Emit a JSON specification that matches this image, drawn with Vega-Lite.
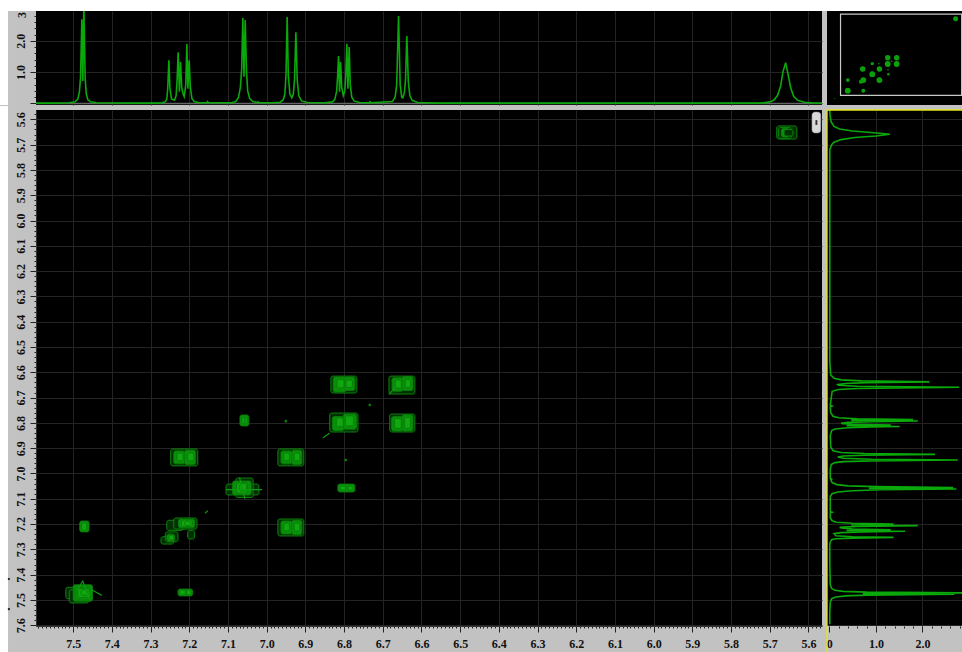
{"$schema":"https://vega.github.io/schema/vega-lite/v6.json","background":"#c2c2c2","padding":0,"spacing":0,
"config":{"view":{"stroke":null},"concat":{"spacing":0},"axis":{"title":null,"labelFont":"Liberation Serif","labelFontWeight":"bold","labelFontSize":12,"labelColor":"#111111","tickColor":"#222222","gridColor":"#242424","gridWidth":1,"domainColor":"#333333","labelOverlap":false,"labelBound":false,"labelFlush":false}},
"datasets":{
"spectrum":[{"ppm":7.596,"intensity":0.01},{"ppm":7.55,"intensity":0.01},{"ppm":7.51,"intensity":0.02},{"ppm":7.495,"intensity":0.05},{"ppm":7.488,"intensity":0.14},{"ppm":7.484,"intensity":0.35},{"ppm":7.481,"intensity":0.8},{"ppm":7.4775,"intensity":2.69},{"ppm":7.475,"intensity":0.72},{"ppm":7.4724,"intensity":3.1},{"ppm":7.469,"intensity":0.8},{"ppm":7.466,"intensity":0.3},{"ppm":7.462,"intensity":0.12},{"ppm":7.455,"intensity":0.05},{"ppm":7.44,"intensity":0.02},{"ppm":7.35,"intensity":0.01},{"ppm":7.28,"intensity":0.01},{"ppm":7.27,"intensity":0.02},{"ppm":7.262,"intensity":0.05},{"ppm":7.258,"intensity":0.14},{"ppm":7.2555,"intensity":0.5},{"ppm":7.2527,"intensity":1.38},{"ppm":7.25,"intensity":0.5},{"ppm":7.246,"intensity":0.14},{"ppm":7.238,"intensity":0.1},{"ppm":7.234,"intensity":0.25},{"ppm":7.2315,"intensity":0.7},{"ppm":7.2287,"intensity":1.63},{"ppm":7.2255,"intensity":0.37},{"ppm":7.2225,"intensity":1.32},{"ppm":7.2195,"intensity":0.5},{"ppm":7.216,"intensity":0.3},{"ppm":7.213,"intensity":0.22},{"ppm":7.209,"intensity":0.6},{"ppm":7.2062,"intensity":1.9},{"ppm":7.2035,"intensity":0.47},{"ppm":7.2003,"intensity":1.38},{"ppm":7.197,"intensity":0.5},{"ppm":7.193,"intensity":0.15},{"ppm":7.187,"intensity":0.06},{"ppm":7.175,"intensity":0.02},{"ppm":7.155,"intensity":0.02},{"ppm":7.1527,"intensity":0.06},{"ppm":7.15,"intensity":0.02},{"ppm":7.09,"intensity":0.02},{"ppm":7.08,"intensity":0.06},{"ppm":7.073,"intensity":0.18},{"ppm":7.068,"intensity":0.5},{"ppm":7.0645,"intensity":1.1},{"ppm":7.0615,"intensity":2.73},{"ppm":7.0585,"intensity":0.85},{"ppm":7.0555,"intensity":2.66},{"ppm":7.052,"intensity":1.0},{"ppm":7.049,"intensity":0.4},{"ppm":7.044,"intensity":0.16},{"ppm":7.036,"intensity":0.06},{"ppm":7.024,"intensity":0.03},{"ppm":7.022,"intensity":0.05},{"ppm":7.018,"intensity":0.02},{"ppm":6.985,"intensity":0.02},{"ppm":6.965,"intensity":0.04},{"ppm":6.957,"intensity":0.12},{"ppm":6.953,"intensity":0.3},{"ppm":6.95,"intensity":0.9},{"ppm":6.947,"intensity":2.76},{"ppm":6.944,"intensity":0.9},{"ppm":6.94,"intensity":0.3},{"ppm":6.935,"intensity":0.18},{"ppm":6.931,"intensity":0.3},{"ppm":6.928,"intensity":0.75},{"ppm":6.9245,"intensity":2.27},{"ppm":6.921,"intensity":0.75},{"ppm":6.917,"intensity":0.25},{"ppm":6.91,"intensity":0.08},{"ppm":6.895,"intensity":0.03},{"ppm":6.85,"intensity":0.02},{"ppm":6.83,"intensity":0.05},{"ppm":6.824,"intensity":0.12},{"ppm":6.819,"intensity":0.4},{"ppm":6.8165,"intensity":0.9},{"ppm":6.8142,"intensity":1.51},{"ppm":6.8116,"intensity":0.37},{"ppm":6.809,"intensity":1.32},{"ppm":6.806,"intensity":0.5},{"ppm":6.802,"intensity":0.25},{"ppm":6.798,"intensity":0.4},{"ppm":6.7955,"intensity":0.9},{"ppm":6.7928,"intensity":1.9},{"ppm":6.79,"intensity":0.47},{"ppm":6.7868,"intensity":1.8},{"ppm":6.784,"intensity":0.6},{"ppm":6.78,"intensity":0.2},{"ppm":6.774,"intensity":0.08},{"ppm":6.76,"intensity":0.03},{"ppm":6.736,"intensity":0.02},{"ppm":6.733,"intensity":0.06},{"ppm":6.73,"intensity":0.02},{"ppm":6.675,"intensity":0.06},{"ppm":6.668,"intensity":0.2},{"ppm":6.664,"intensity":0.6},{"ppm":6.6592,"intensity":2.79},{"ppm":6.655,"intensity":0.6},{"ppm":6.651,"intensity":0.2},{"ppm":6.648,"intensity":0.18},{"ppm":6.644,"intensity":0.35},{"ppm":6.641,"intensity":0.8},{"ppm":6.6378,"intensity":2.15},{"ppm":6.634,"intensity":0.7},{"ppm":6.63,"intensity":0.25},{"ppm":6.624,"intensity":0.1},{"ppm":6.61,"intensity":0.03},{"ppm":6.56,"intensity":0.01},{"ppm":5.72,"intensity":0.01},{"ppm":5.7,"intensity":0.05},{"ppm":5.69,"intensity":0.1},{"ppm":5.68,"intensity":0.25},{"ppm":5.672,"intensity":0.55},{"ppm":5.666,"intensity":1.0},{"ppm":5.659,"intensity":1.3},{"ppm":5.653,"intensity":0.95},{"ppm":5.646,"intensity":0.5},{"ppm":5.638,"intensity":0.22},{"ppm":5.628,"intensity":0.1},{"ppm":5.61,"intensity":0.04},{"ppm":5.585,"intensity":0.015},{"ppm":5.563,"intensity":0.01}],
"contours":[
{"a":5.682,"b":5.63,"c":5.626,"d":5.678,"lvl":1},{"a":5.677,"b":5.645,"c":5.632,"d":5.676,"lvl":1},{"a":5.67,"b":5.65,"c":5.636,"d":5.67,"lvl":2},{"a":5.663,"b":5.64,"c":5.64,"d":5.666,"lvl":1},
{"a":6.834,"b":6.767,"c":6.615,"d":6.682,"lvl":1},{"a":6.828,"b":6.795,"c":6.619,"d":6.678,"lvl":2},{"a":6.8,"b":6.772,"c":6.619,"d":6.672,"lvl":2},{"a":6.818,"b":6.8,"c":6.628,"d":6.662,"lvl":3},{"a":6.795,"b":6.778,"c":6.63,"d":6.66,"lvl":3},
{"a":6.684,"b":6.617,"c":6.615,"d":6.686,"lvl":1},{"a":6.676,"b":6.648,"c":6.622,"d":6.675,"lvl":2},{"a":6.65,"b":6.622,"c":6.617,"d":6.672,"lvl":2},{"a":6.668,"b":6.652,"c":6.63,"d":6.662,"lvl":3},{"a":6.642,"b":6.628,"c":6.628,"d":6.66,"lvl":3},
{"a":6.837,"b":6.764,"c":6.761,"d":6.836,"lvl":1},{"a":6.83,"b":6.8,"c":6.775,"d":6.83,"lvl":2},{"a":6.802,"b":6.768,"c":6.765,"d":6.825,"lvl":2},{"a":6.82,"b":6.802,"c":6.78,"d":6.815,"lvl":3},{"a":6.797,"b":6.775,"c":6.772,"d":6.812,"lvl":3},
{"a":6.682,"b":6.617,"c":6.765,"d":6.836,"lvl":1},{"a":6.677,"b":6.648,"c":6.775,"d":6.832,"lvl":2},{"a":6.65,"b":6.622,"c":6.768,"d":6.832,"lvl":2},{"a":6.67,"b":6.652,"c":6.782,"d":6.822,"lvl":3},{"a":6.644,"b":6.628,"c":6.778,"d":6.822,"lvl":3},
{"a":7.069,"b":7.046,"c":6.769,"d":6.812,"lvl":2},{"a":7.064,"b":7.056,"c":6.778,"d":6.804,"lvl":3},{"a":7.056,"b":7.05,"c":6.778,"d":6.804,"lvl":3},
{"a":6.971,"b":6.904,"c":6.903,"d":6.97,"lvl":1},{"a":6.963,"b":6.935,"c":6.911,"d":6.962,"lvl":2},{"a":6.935,"b":6.909,"c":6.908,"d":6.965,"lvl":2},{"a":6.956,"b":6.941,"c":6.919,"d":6.95,"lvl":3},{"a":6.929,"b":6.914,"c":6.919,"d":6.95,"lvl":3},
{"a":7.248,"b":7.178,"c":6.903,"d":6.97,"lvl":1},{"a":7.24,"b":7.212,"c":6.911,"d":6.962,"lvl":2},{"a":7.212,"b":7.184,"c":6.908,"d":6.965,"lvl":2},{"a":7.232,"b":7.216,"c":6.919,"d":6.95,"lvl":3},{"a":7.204,"b":7.188,"c":6.919,"d":6.95,"lvl":3},
{"a":7.105,"b":7.02,"c":7.042,"d":7.085,"lvl":1},{"a":7.08,"b":7.035,"c":7.018,"d":7.095,"lvl":1},{"a":7.088,"b":7.04,"c":7.03,"d":7.085,"lvl":2},{"a":7.078,"b":7.05,"c":7.036,"d":7.078,"lvl":3},{"a":7.07,"b":7.052,"c":7.04,"d":7.07,"lvl":3},
{"a":6.816,"b":6.772,"c":7.042,"d":7.073,"lvl":2},{"a":6.811,"b":6.795,"c":7.05,"d":7.066,"lvl":3},{"a":6.79,"b":6.777,"c":7.05,"d":7.066,"lvl":3},
{"a":6.971,"b":6.904,"c":7.18,"d":7.247,"lvl":1},{"a":6.963,"b":6.935,"c":7.188,"d":7.239,"lvl":2},{"a":6.935,"b":6.909,"c":7.185,"d":7.242,"lvl":2},{"a":6.956,"b":6.941,"c":7.196,"d":7.227,"lvl":3},{"a":6.929,"b":6.914,"c":7.196,"d":7.227,"lvl":3},
{"a":7.483,"b":7.459,"c":7.188,"d":7.231,"lvl":2},{"a":7.478,"b":7.465,"c":7.195,"d":7.225,"lvl":3},
{"a":7.258,"b":7.215,"c":7.185,"d":7.225,"lvl":1},{"a":7.24,"b":7.18,"c":7.176,"d":7.22,"lvl":1},{"a":7.204,"b":7.186,"c":7.225,"d":7.259,"lvl":1},{"a":7.228,"b":7.186,"c":7.18,"d":7.215,"lvl":2},{"a":7.22,"b":7.192,"c":7.184,"d":7.21,"lvl":3},{"a":7.212,"b":7.196,"c":7.188,"d":7.206,"lvl":3},
{"a":7.273,"b":7.24,"c":7.25,"d":7.279,"lvl":1},{"a":7.262,"b":7.229,"c":7.231,"d":7.27,"lvl":1},{"a":7.258,"b":7.238,"c":7.24,"d":7.268,"lvl":2},{"a":7.253,"b":7.24,"c":7.245,"d":7.262,"lvl":3},
{"a":7.519,"b":7.465,"c":7.45,"d":7.495,"lvl":1},{"a":7.51,"b":7.46,"c":7.46,"d":7.512,"lvl":1},{"a":7.5,"b":7.45,"c":7.44,"d":7.505,"lvl":2},{"a":7.495,"b":7.455,"c":7.45,"d":7.5,"lvl":2},{"a":7.488,"b":7.458,"c":7.455,"d":7.49,"lvl":3},{"a":7.48,"b":7.462,"c":7.46,"d":7.482,"lvl":3},
{"a":7.229,"b":7.191,"c":7.457,"d":7.484,"lvl":2},{"a":7.225,"b":7.21,"c":7.461,"d":7.48,"lvl":3},{"a":7.207,"b":7.195,"c":7.46,"d":7.48,"lvl":3},
{"a":6.953,"b":6.948,"c":6.789,"d":6.797,"lvl":3},{"a":6.736,"b":6.731,"c":6.725,"d":6.733,"lvl":3},{"a":6.798,"b":6.793,"c":6.943,"d":6.951,"lvl":3}],
"tails":[
{"a":6.837,"c":6.84,"tail":"t1"},{"a":6.855,"c":6.86,"tail":"t1"},
{"a":6.684,"c":6.688,"tail":"t2"},{"a":6.668,"c":6.66,"tail":"t2"},
{"a":7.159,"c":7.157,"tail":"t3"},{"a":7.152,"c":7.147,"tail":"t3"},
{"a":7.49,"c":7.46,"tail":"t4"},{"a":7.475,"c":7.425,"tail":"t4"},{"a":7.452,"c":7.46,"tail":"t4"},{"a":7.426,"c":7.482,"tail":"t4"},{"a":7.46,"c":7.49,"tail":"t4"},
{"a":7.105,"c":7.064,"tail":"t5"},{"a":7.012,"c":7.064,"tail":"t5"},
{"a":7.07,"c":7.016,"tail":"t6"},{"a":7.056,"c":7.1,"tail":"t6"}],
"mini":[
{"a":5.66,"c":5.65,"volume":22},{"a":6.8,"c":6.64,"volume":26},{"a":6.65,"c":6.64,"volume":26},{"a":6.8,"c":6.8,"volume":30},{"a":6.65,"c":6.8,"volume":30},{"a":7.06,"c":6.79,"volume":10},{"a":6.94,"c":6.93,"volume":26},{"a":7.22,"c":6.93,"volume":26},{"a":7.06,"c":7.06,"volume":30},{"a":6.79,"c":7.06,"volume":6},{"a":6.94,"c":7.21,"volume":30},{"a":7.47,"c":7.21,"volume":12},{"a":7.21,"c":7.21,"volume":30},{"a":7.25,"c":7.25,"volume":14},{"a":7.47,"c":7.48,"volume":30},{"a":7.21,"c":7.48,"volume":14},{"a":6.733,"c":6.729,"volume":2},{"a":6.95,"c":6.793,"volume":2},{"a":6.795,"c":6.947,"volume":2},{"a":7.69,"c":7.68,"volume":1}]
},
"vconcat":[
{"width":926,"height":11,"data":{"values":[{"a":-36,"b":926,"c":0,"d":1}]},"mark":{"type":"rect","fill":"#ffffff","clip":false},"encoding":{"x":{"field":"a","type":"quantitative","axis":null,"scale":{"domain":[0,926],"nice":false,"zero":false}},"x2":{"field":"b"},"y":{"field":"c","type":"quantitative","axis":null,"scale":{"domain":[0,1],"nice":false,"zero":false}},"y2":{"field":"d"}}},
{"spacing":-2,"vconcat":[
{"spacing":5,"bounds":"flush","hconcat":[
{"width":786,"height":94,"view":{"fill":"#000000","stroke":null},
"encoding":{"x":{"field":"ppm","type":"quantitative","scale":{"domain":[7.596,5.565],"nice":false,"zero":false},"axis":{"grid":true,"tickCount":20,"ticks":false,"labels":false,"domain":false,"maxExtent":0,"minExtent":0}},
"y":{"field":"intensity","type":"quantitative","scale":{"domain":[-0.05,2.95],"nice":false,"zero":false},"axis":{"grid":true,"tickCount":15,"minExtent":36,"maxExtent":36,"domain":false,"labelAngle":270,"labelAlign":"center","labelBaseline":"bottom","labelPadding":3,"tickSize":{"condition":{"test":"abs(datum.value-round(datum.value))<0.001","value":6},"value":2},"gridOpacity":{"condition":{"test":"abs(datum.value-round(datum.value))<0.001","value":1},"value":0},"labelExpr":"datum.value>0.5&&abs(datum.value-round(datum.value))<0.001?format(datum.value,'.1f'):''"}}},
"layer":[
{"data":{"values":[{"ppm":7.689,"ppm2":7.6683,"intensity":-0.05,"i2":2.95}]},"mark":{"type":"rect","fill":"#ffffff","clip":false},"encoding":{"x2":{"field":"ppm2"},"y2":{"field":"i2"}}},
{"data":{"values":[{"ppm":7.596,"intensity":0},{"ppm":5.565,"intensity":0}]},"mark":{"type":"line","color":"#666666","strokeWidth":1.5}},
{"data":{"name":"spectrum"},"mark":{"type":"line","color":"#0aa80a","strokeWidth":1.6,"clip":true}},
{"data":{"values":[{"ppm":7.596,"intensity":2.82,"label":"3"}]},"mark":{"type":"text","font":"Liberation Serif","fontWeight":"bold","fontSize":12,"color":"#111111","angle":270,"baseline":"middle","dy":-14,"clip":false},"encoding":{"text":{"field":"label"}}}
]},
{"width":135,"height":94,"view":{"fill":"#000000","stroke":null},
"encoding":{"x":{"field":"a","type":"quantitative","axis":null,"scale":{"domain":[7.819,5.554],"nice":false,"zero":false}},"y":{"field":"c","type":"quantitative","axis":null,"scale":{"domain":[7.844,5.452],"nice":false,"zero":false}}},
"layer":[
{"data":{"values":[{"a":7.592,"b":5.56,"c":5.53,"d":7.6}]},"mark":{"type":"rect","fill":"transparent","stroke":"#c8c8c8","strokeWidth":1.2,"clip":true},"encoding":{"x2":{"field":"b"},"y2":{"field":"d"}}},
{"data":{"name":"mini"},"mark":{"type":"circle","color":"#0aa00a","opacity":1},"encoding":{"size":{"field":"volume","type":"quantitative","legend":null,"scale":{"domain":[0,30],"range":[0,34]}}}}
]}
]},
{"spacing":5,"bounds":"flush","hconcat":[
{"width":786,"height":516,"view":{"fill":"#000000","stroke":null},
"encoding":{"x":{"field":"a","type":"quantitative","scale":{"domain":[7.596,5.565],"nice":false,"zero":false},"axis":{"grid":true,"tickCount":200,"minExtent":27,"maxExtent":27,"domain":true,"labelPadding":6,"tickSize":{"condition":{"test":"abs(datum.value*10-round(datum.value*10))<0.01","value":6},"value":2},"gridOpacity":{"condition":{"test":"abs(datum.value*10-round(datum.value*10))<0.01","value":1},"value":0},"labelExpr":"abs(datum.value*10-round(datum.value*10))<0.01?format(datum.value,'.1f'):''"}},
"y":{"field":"c","type":"quantitative","scale":{"domain":[7.603,5.563],"nice":false,"zero":false},"axis":{"grid":true,"tickCount":100,"minExtent":36,"maxExtent":36,"domain":true,"labelAngle":270,"labelAlign":"center","labelBaseline":"bottom","labelPadding":3,"tickSize":{"condition":{"test":"abs(datum.value*10-round(datum.value*10))<0.01","value":6},"value":2},"gridOpacity":{"condition":{"test":"abs(datum.value*10-round(datum.value*10))<0.01","value":1},"value":0},"labelExpr":"abs(datum.value*10-round(datum.value*10))<0.01?format(datum.value,'.1f'):''"}}},
"layer":[
{"data":{"values":[{"a":7.689,"b":7.6683,"c":5.547,"d":7.71}]},"mark":{"type":"rect","fill":"#ffffff","clip":false},"encoding":{"x2":{"field":"b"},"y2":{"field":"d"}}},
{"data":{"name":"contours"},"mark":{"type":"rect","cornerRadius":2,"strokeWidth":0.9,"clip":true},"encoding":{"x2":{"field":"b"},"y2":{"field":"d"},"fill":{"field":"lvl","type":"nominal","legend":null,"scale":{"domain":[1,2,3],"range":["#042f04","#0a8f0a","#0fa80f"]}},"stroke":{"field":"lvl","type":"nominal","legend":null,"scale":{"domain":[1,2,3],"range":["#0b8f0b","#0a7f0a","#0a7a0a"]}}}},
{"data":{"name":"tails"},"mark":{"type":"line","color":"#0c9c0c","strokeWidth":1.2,"clip":true},"encoding":{"detail":{"field":"tail"},"order":{"field":"a"}}},
{"data":{"values":[{"a":5.591,"b":5.568,"c":5.571,"d":5.654}]},"mark":{"type":"rect","fill":"#d9d9d9","stroke":"#8a8a8a","strokeWidth":0.5,"cornerRadius":3},"encoding":{"x2":{"field":"b"},"y2":{"field":"d"}}},
{"data":{"values":[{"a":5.582,"b":5.577,"c":5.603,"d":5.622}]},"mark":{"type":"rect","fill":"#333333"},"encoding":{"x2":{"field":"b"},"y2":{"field":"d"}}},
{"data":{"values":[{"a":7.666,"c":7.417},{"a":7.666,"c":7.536}]},"mark":{"type":"point","shape":"diamond","filled":true,"size":7,"color":"#111111","opacity":1,"clip":false}}
]},
{"width":135,"height":516,"view":{"fill":"#000000","stroke":null},
"encoding":{"x":{"field":"intensity","type":"quantitative","scale":{"domain":[-0.05,2.85],"nice":false,"zero":false},"axis":{"grid":true,"tickCount":15,"minExtent":27,"maxExtent":27,"domain":false,"labelPadding":6,"tickSize":{"condition":{"test":"abs(datum.value-round(datum.value))<0.001","value":6},"value":2},"gridOpacity":{"condition":{"test":"abs(datum.value-round(datum.value))<0.001&&datum.value>0","value":1},"value":0},"labelExpr":"abs(datum.value-round(datum.value))<0.001?(datum.value==0?'0':format(datum.value,'.1f')):''"}},
"y":{"field":"ppm","type":"quantitative","scale":{"domain":[7.603,5.563],"nice":false,"zero":false},"axis":{"grid":true,"tickCount":20,"ticks":false,"labels":false,"domain":false,"minExtent":0,"maxExtent":0}}},
"layer":[
{"data":{"name":"spectrum"},"mark":{"type":"line","color":"#0aa80a","strokeWidth":1.6,"clip":true},"encoding":{"order":{"field":"ppm"}}},
{"data":{"values":[{"intensity":2.85,"ppm":5.563,"k":1},{"intensity":-0.05,"ppm":5.563,"k":2},{"intensity":-0.05,"ppm":7.71,"k":3}]},"mark":{"type":"line","color":"#e6e61a","strokeWidth":1.3,"clip":false},"encoding":{"order":{"field":"k"}}}
]}
]}
]}
]}
